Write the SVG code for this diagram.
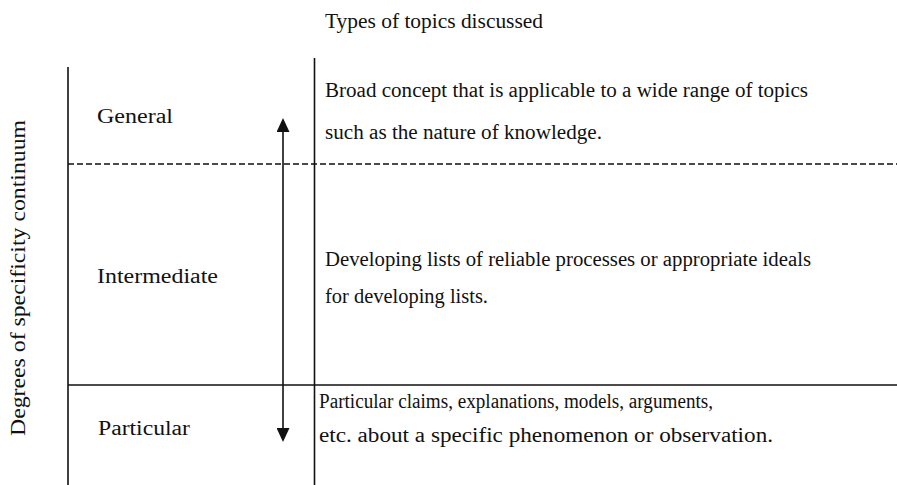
<svg xmlns="http://www.w3.org/2000/svg" width="897" height="485" viewBox="0 0 897 485">
<style>
text { font-family: 'Liberation Serif', 'DejaVu Serif', serif; font-size: 20px; fill: #111; }
.ln { stroke: #111; stroke-width: 1.6; fill: none; }
.dash { stroke: #111; stroke-width: 1.6; stroke-dasharray: 6 3; fill: none; }
</style>
<defs>
<marker id="ah" markerUnits="userSpaceOnUse" markerWidth="14" markerHeight="13" refX="0" refY="6.5" orient="auto-start-reverse" viewBox="0 0 14 13">
<path d="M0,0 L14,6.5 L0,13 z" fill="#111"/>
</marker>
</defs>
<rect width="897" height="485" fill="#fff"/>
<g id="grid">
<line class="ln" x1="68" y1="67" x2="68" y2="485"/>
<line class="ln" x1="314.5" y1="58" x2="314.5" y2="485"/>
<line class="dash" x1="68" y1="164" x2="897" y2="164"/>
<line class="ln" x1="68" y1="385" x2="897" y2="385"/>
</g>
<g id="connectors">
<line class="ln" x1="283" y1="132" x2="283" y2="428" marker-start="url(#ah)" marker-end="url(#ah)"/>
</g>
<g font-family="Liberation Serif, DejaVu Serif, serif">
<g id="title">
<text x="325" y="28" textLength="218" lengthAdjust="spacingAndGlyphs">Types of topics discussed</text>
</g>
<g id="axis-label">
<text transform="translate(25,436) rotate(-90)" x="0" y="0" textLength="316" lengthAdjust="spacingAndGlyphs">Degrees of specificity continuum</text>
</g>
<g id="general">
<text x="97" y="123" textLength="76" lengthAdjust="spacingAndGlyphs">General</text>
<text x="325" y="97" textLength="483" lengthAdjust="spacingAndGlyphs">Broad concept that is applicable to a wide range of topics</text>
<text x="325" y="139" textLength="277" lengthAdjust="spacingAndGlyphs">such as the nature of knowledge.</text>
</g>
<g id="intermediate">
<text x="97" y="283" textLength="121" lengthAdjust="spacingAndGlyphs">Intermediate</text>
<text x="325" y="266" textLength="486" lengthAdjust="spacingAndGlyphs">Developing lists of reliable processes or appropriate ideals</text>
<text x="325" y="303" textLength="163" lengthAdjust="spacingAndGlyphs">for developing lists.</text>
</g>
<g id="particular">
<text x="98" y="435" textLength="92" lengthAdjust="spacingAndGlyphs">Particular</text>
<text x="319" y="408" textLength="394" lengthAdjust="spacingAndGlyphs">Particular claims, explanations, models, arguments,</text>
<text x="319" y="442" textLength="454" lengthAdjust="spacingAndGlyphs">etc. about a specific phenomenon or observation.</text>
</g>
</g>
</svg>
